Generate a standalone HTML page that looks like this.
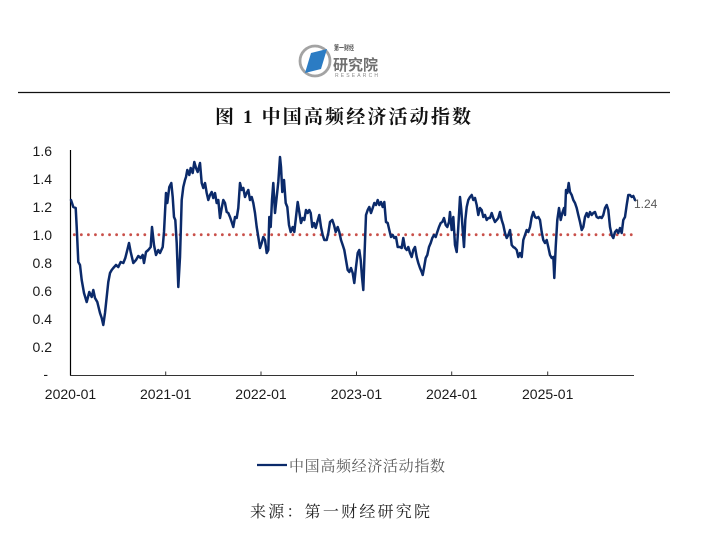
<!DOCTYPE html>
<html>
<head>
<meta charset="utf-8">
<style>
html,body{margin:0;padding:0;background:#fff;}
svg{display:block;}
</style>
</head>
<body>
<svg width="715" height="555" viewBox="0 0 715 555" xmlns="http://www.w3.org/2000/svg">
<rect x="0" y="0" width="715" height="555" fill="#fff"/>

<!-- logo -->
<circle cx="315" cy="61" r="15" fill="none" stroke="#a3a3a3" stroke-width="2.8"/>
<polygon points="305,73 311,53 327,49 321,69" fill="#2b7cc4"/>
<text x="334" y="50" font-family="'Liberation Sans','Noto Sans CJK SC',sans-serif" font-size="7" font-weight="bold" fill="#555" textLength="20" lengthAdjust="spacingAndGlyphs">第一财经</text>
<text x="333" y="70" font-family="'Liberation Sans','Noto Sans CJK SC',sans-serif" font-size="15" font-weight="bold" fill="#707070" textLength="45" lengthAdjust="spacingAndGlyphs">研究院</text>
<text x="335" y="77" font-family="'Liberation Sans',sans-serif" font-size="5" fill="#8a8a8a" textLength="43" lengthAdjust="spacing">RESEARCH</text>

<!-- header rule -->
<line x1="18" y1="92.5" x2="670" y2="92.5" stroke="#111" stroke-width="1.2"/>

<!-- title -->
<text x="215" y="123" font-family="'Liberation Serif','Noto Serif CJK SC',serif" font-size="19" font-weight="bold" fill="#111" textLength="256" lengthAdjust="spacing">图 1  中国高频经济活动指数</text>

<!-- axes -->
<line x1="70.5" y1="150" x2="70.5" y2="375.5" stroke="#000" stroke-width="1.2"/>
<line x1="70" y1="375.5" x2="634" y2="375.5" stroke="#333" stroke-width="1"/>
<g stroke="#333" stroke-width="1">
<line x1="165.7" y1="371.5" x2="165.7" y2="375.5"/>
<line x1="261" y1="371.5" x2="261" y2="375.5"/>
<line x1="356.5" y1="371.5" x2="356.5" y2="375.5"/>
<line x1="451.7" y1="371.5" x2="451.7" y2="375.5"/>
<line x1="547.7" y1="371.5" x2="547.7" y2="375.5"/>
</g>

<!-- y labels -->
<g font-family="'Liberation Sans',sans-serif" font-size="14" fill="#1a1a1a" text-anchor="end">
<text x="52" y="156">1.6</text>
<text x="52" y="184">1.4</text>
<text x="52" y="212">1.2</text>
<text x="52" y="240">1.0</text>
<text x="52" y="268">0.8</text>
<text x="52" y="296">0.6</text>
<text x="52" y="324">0.4</text>
<text x="52" y="352">0.2</text>
<text x="48" y="379">-</text>
</g>

<!-- x labels -->
<g font-family="'Liberation Sans',sans-serif" font-size="14" fill="#1a1a1a" text-anchor="middle">
<text x="70.5" y="399">2020-01</text>
<text x="165.7" y="399">2021-01</text>
<text x="261" y="399">2022-01</text>
<text x="356.5" y="399">2023-01</text>
<text x="451.7" y="399">2024-01</text>
<text x="547.7" y="399">2025-01</text>
</g>

<!-- reference dotted line at 1.0 -->
<line x1="74.3" y1="234.7" x2="634" y2="234.7" stroke="#c9504a" stroke-width="2.8" stroke-linecap="round" stroke-dasharray="0 7.05"/>

<!-- series -->
<polyline fill="none" stroke="#0b2a6a" stroke-width="2.5" stroke-linejoin="round" stroke-linecap="round" points="
71,200 72,203 73.3,207 75.7,208 76.7,227 78.3,262 80,265 81.7,280 84,293 86.7,302 89.3,292 91.7,297 93.3,290 95,298 97.3,302 100,313 101.7,318 103.3,325 105,313 106.7,297 108.3,282 110,273 111.7,270 113.3,268 116,265 118.3,267 120.7,262 123.3,263 125.3,258 127.3,250 129,243 130.7,252 133.3,263 136,260 138.3,256 140.7,258 142.7,255 144,263 146,252 148.3,250 150.7,247 152,227 154,245 156,255 158.3,250 160,253 162.7,247 164,232 166,193 167.3,203 169.3,187 171.3,183 172.7,197 174,217 175.3,220 176.7,243 178.3,287 180,257 181.7,200 183.3,187 185,180 186,177 187.3,170 189.3,175 190.7,168 192.7,173 194.3,162 196,168 197.7,172 200,163 201.7,183 203.3,188 205,183 206.7,193 208.3,200 210,195 211.7,192 213.3,198 215,193 216.7,203 218.3,200 220,218 221.7,208 223.3,200 225,203 226.7,212 228.3,213 230,217 231.7,222 233.3,227 235,217 236.7,218 238.3,208 240,183 241.7,190 243.3,188 245,197 246.7,193 248.3,190 250,200 251.7,197 253.3,203 255,213 256.7,227 258.3,237 260,248 261.7,243 263.3,237 265,240 266.7,253 268.3,250 269.3,217 270.7,227 272,200 273.3,183 275,213 276.7,197 278.3,182 280,157 281,167 282.3,192 284,180 285.7,203 287.3,207 289,225 290.7,232 292.7,227 294.3,232 296,217 297.7,202 299.3,212 301,223 302.7,218 304.3,220 306,210 307.7,213 309.3,210 310.7,213 312.3,227 314,223 315.7,228 317.3,222 319.3,215 321,227 322.7,235 324.3,240 326.7,240 328.3,233 330,222 332.3,220 334,225 335.7,232 337.7,227 339.3,232 341,240 342.7,245 344.3,250 346,260 347.7,270 349.3,272 351,268 352.7,273 354.3,283 356,267 357.7,253 359.3,250 360.7,260 362,277 363.3,290 364.7,250 366,215 367.7,210 369.3,207 371,213 372.7,208 374.3,203 376,205 377.7,200 379.3,205 381,202 382.7,207 384.3,202 386,222 387.7,223 389.3,230 391,237 392.7,235 394.3,238 396,237 397.7,247 400,247 401.7,248 403.3,238 405,248 406.7,250 408.3,247 410,253 411.7,257 413.3,250 415,247 416.7,257 418.3,263 420,268 421.7,272 422.7,275 424,268 425.7,258 427.3,255 429,247 430.7,243 432.3,238 434,235 435.7,237 437.3,232 439,227 440.7,223 442.3,222 444,218 445.7,225 447.3,227 449,222 450,212 451.7,230 453.3,217 455,245 456.7,252 458.3,227 460,197 461.3,210 462.7,230 464,247 465.3,220 466.7,207 468.3,200 470,197 471.7,195 473.3,200 475,198 476.7,205 478.3,215 480,208 481.7,210 483.3,217 485,215 486.7,220 488.3,218 490,218 491.7,213 493.3,218 495,222 496.7,220 498.3,218 500,212 501.7,220 503.3,225 505,233 506.7,238 508.3,235 510,230 511.7,245 513.3,247 515,248 516.7,250 518.3,257 520,253 521.7,257 523.3,240 525,235 526.7,230 528.3,232 530,227 531.7,217 533.3,212 535,217 536.7,218 538.3,217 540,220 541.7,232 543.3,240 545,243 546.7,240 548.3,247 550,255 551.7,258 553.3,257 554.3,278 555.7,247 557.3,220 559,208 560.7,220 562.3,213 564,208 565,215 566,190 567.3,193 568.7,183 570,192 571.7,195 573.3,200 575,203 576.7,208 578.3,215 580,222 581.7,230 583.3,227 585,217 586.7,213 588.3,217 590,212 591.7,215 593.3,213 595,212 596.7,217 598.3,218 600,217 601.7,218 603.3,215 605,208 606.7,205 608.3,210 610,227 611.7,235 613.3,238 615,232 616.7,230 618.3,233 620,228 621.7,233 623.3,220 625,217 626.7,205 628.3,195 630,195 631.7,197 633.3,196 635,200"/>

<!-- end label -->
<text x="634" y="208" font-family="'Liberation Sans',sans-serif" font-size="12" fill="#595959">1.24</text>

<!-- legend -->
<line x1="257" y1="465" x2="287" y2="465" stroke="#0b2a6a" stroke-width="2.2"/>
<text x="289" y="471" font-family="'Liberation Serif','Noto Serif CJK SC',serif" font-size="15" fill="#595959" textLength="156" lengthAdjust="spacing">中国高频经济活动指数</text>

<!-- source -->
<text x="250" y="517" font-family="'Liberation Serif','Noto Serif CJK SC',serif" font-size="16" fill="#222" textLength="180" lengthAdjust="spacing">来源：第一财经研究院</text>
</svg>
</body>
</html>
